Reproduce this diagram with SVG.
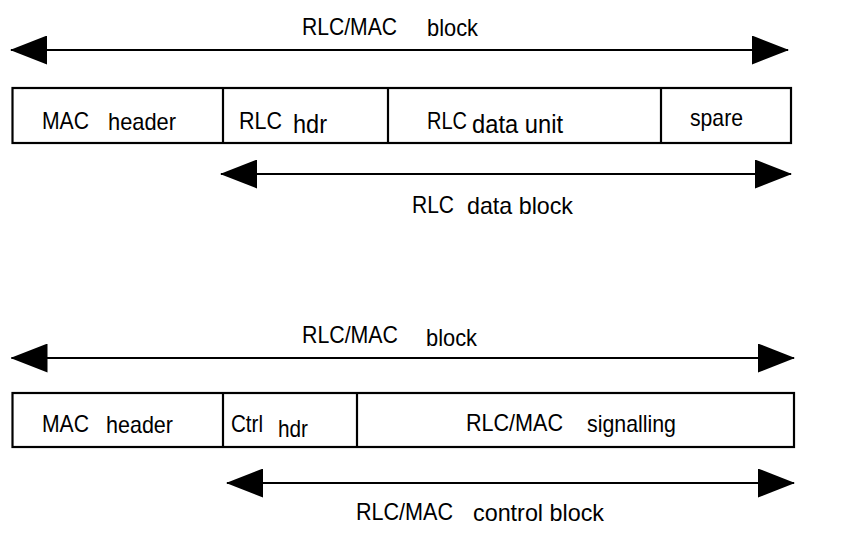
<svg xmlns="http://www.w3.org/2000/svg" width="850" height="533" viewBox="0 0 850 533">
<style>
  .t { font-family: "Liberation Sans", Arial, sans-serif; fill: #000; font-size: 24px; }
  .big { font-size: 25px; }
  .box { fill: #fff; stroke: #000; stroke-width: 2.2; }
  .div { stroke: #000; stroke-width: 2.2; }
  .arr { stroke: #000; stroke-width: 2; fill: none; marker-start: url(#ah); marker-end: url(#ah); }
</style>
<defs>
  <marker id="ah" markerUnits="userSpaceOnUse" viewBox="0 0 37 29" markerWidth="37" markerHeight="29" refX="36" refY="14.5" orient="auto-start-reverse">
    <path d="M0,0 L37,14.5 L0,29 Z" fill="#000"/>
  </marker>
</defs>
<rect width="850" height="533" fill="#fff"/>

<g id="connectors">
  <line class="arr" x1="11" y1="50" x2="788" y2="50"/>
  <line class="arr" x1="221" y1="174" x2="791" y2="174"/>
  <line class="arr" x1="11.5" y1="358" x2="794" y2="358"/>
  <line class="arr" x1="227" y1="483" x2="794" y2="483"/>
</g>

<g id="label-block-1">
  <text class="t" x="302" y="35" textLength="95" lengthAdjust="spacingAndGlyphs">RLC/MAC</text>
  <text class="t" x="427" y="36" textLength="51" lengthAdjust="spacingAndGlyphs">block</text>
</g>

<g id="data-block-frame">
  <rect class="box" x="12.5" y="88" width="778.5" height="55"/>
  <g id="mac-header-1">
    <text class="t" x="42" y="129" textLength="47" lengthAdjust="spacingAndGlyphs">MAC</text>
    <text class="t" x="108" y="130" textLength="68" lengthAdjust="spacingAndGlyphs">header</text>
  </g>
  <g id="rlc-hdr">
    <line class="div" x1="223" y1="88" x2="223" y2="143"/>
    <text class="t" x="239" y="129" textLength="43" lengthAdjust="spacingAndGlyphs">RLC</text>
    <text class="t big" x="293" y="133" textLength="34" lengthAdjust="spacingAndGlyphs">hdr</text>
  </g>
  <g id="rlc-data-unit">
    <line class="div" x1="388" y1="88" x2="388" y2="143"/>
    <text class="t" x="427" y="129" textLength="40" lengthAdjust="spacingAndGlyphs">RLC</text>
    <text class="t big" x="472" y="133" textLength="91" lengthAdjust="spacingAndGlyphs">data unit</text>
  </g>
  <g id="spare">
    <line class="div" x1="661" y1="88" x2="661" y2="143"/>
    <text class="t" x="690" y="126" textLength="53" lengthAdjust="spacingAndGlyphs">spare</text>
  </g>
</g>

<g id="label-data-block">
  <text class="t" x="412" y="213" textLength="42" lengthAdjust="spacingAndGlyphs">RLC</text>
  <text class="t" x="467" y="214" textLength="106" lengthAdjust="spacingAndGlyphs">data block</text>
</g>

<g id="label-block-2">
  <text class="t" x="302" y="343" textLength="96" lengthAdjust="spacingAndGlyphs">RLC/MAC</text>
  <text class="t" x="426" y="346" textLength="51" lengthAdjust="spacingAndGlyphs">block</text>
</g>

<g id="control-block-frame">
  <rect class="box" x="12.5" y="393" width="781.5" height="54"/>
  <g id="mac-header-2">
    <text class="t" x="42" y="432" textLength="47" lengthAdjust="spacingAndGlyphs">MAC</text>
    <text class="t" x="106" y="433" textLength="67" lengthAdjust="spacingAndGlyphs">header</text>
  </g>
  <g id="ctrl-hdr">
    <line class="div" x1="223" y1="393" x2="223" y2="447"/>
    <text class="t" x="231" y="431.5" textLength="32" lengthAdjust="spacingAndGlyphs">Ctrl</text>
    <text class="t" x="278" y="437" textLength="30" lengthAdjust="spacingAndGlyphs">hdr</text>
  </g>
  <g id="signalling">
    <line class="div" x1="357" y1="393" x2="357" y2="447"/>
    <text class="t" x="466" y="431" textLength="97" lengthAdjust="spacingAndGlyphs">RLC/MAC</text>
    <text class="t" x="587" y="432" textLength="89" lengthAdjust="spacingAndGlyphs">signalling</text>
  </g>
</g>

<g id="label-control-block">
  <text class="t" x="356" y="520" textLength="97" lengthAdjust="spacingAndGlyphs">RLC/MAC</text>
  <text class="t" x="473" y="521" textLength="131" lengthAdjust="spacingAndGlyphs">control block</text>
</g>
</svg>
